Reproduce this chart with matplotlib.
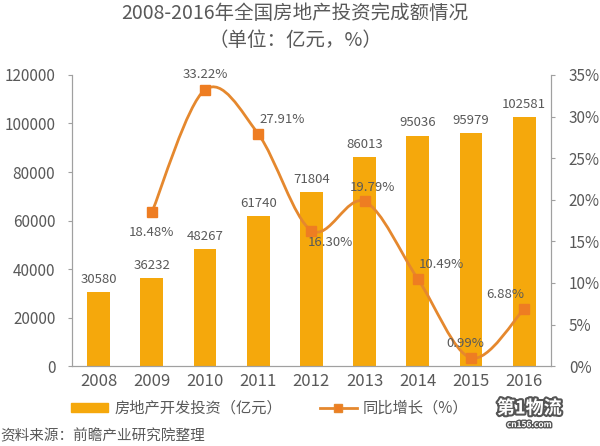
import matplotlib.pyplot as plt
import matplotlib.patheffects as pe
from matplotlib.path import Path
from matplotlib.patches import PathPatch
from matplotlib.lines import Line2D
from matplotlib.patches import Patch
import numpy as np

plt.rcParams['font.family'] = ['Noto Sans CJK SC', 'DejaVu Sans']

years = ['2008', '2009', '2010', '2011', '2012', '2013', '2014', '2015', '2016']
invest = [30580, 36232, 48267, 61740, 71804, 86013, 95036, 95979, 102581]
# growth rate (%), no value for 2008
growth_years = ['2009', '2010', '2011', '2012', '2013', '2014', '2015', '2016']
growth = [18.48, 33.22, 27.91, 16.30, 19.79, 10.49, 0.99, 6.88]

bar_color = '#F5A80C'
line_color = '#E5882E'
text_color = '#595959'
axis_color = '#A0A0A0'

fig = plt.figure(figsize=(6, 4.46), dpi=100)
ax = fig.add_axes([0.12, 0.179, 0.798, 0.653])
ax2 = ax.twinx()

x = np.arange(len(years))
ax.bar(x, invest, width=0.43, color=bar_color, zorder=2)
for xi, v in zip(x, invest):
    ax.text(xi, v + 2500, str(v), ha='center', va='bottom', fontsize=9.5, color=text_color)

ax.set_xlim(-0.5, len(years) - 0.5)
ax.set_ylim(0, 120000)
ax.set_yticks(range(0, 120001, 20000))
ax.set_xticks(x)
ax.set_xticklabels(years)
ax2.set_ylim(0, 35)
ax2.set_yticks(range(0, 36, 5))
ax2.set_yticklabels([f'{t}%' for t in range(0, 36, 5)])

for a in (ax, ax2):
    a.spines['top'].set_visible(False)
    for s in ('left', 'right', 'bottom'):
        a.spines[s].set_color(axis_color)
    a.tick_params(colors=text_color, labelsize=11, length=3, width=0.8)
    a.tick_params(axis='y', color=axis_color)
ax.tick_params(axis='x', length=0, pad=5, labelsize=12)
ax.tick_params(axis='y', pad=9)
ax2.tick_params(axis='y', pad=10)

# smooth line through the growth points (Catmull-Rom drawn as Bezier curves)
gx = np.array([years.index(y) for y in growth_years], dtype=float)
gy = np.array(growth)
verts = [(gx[0], gy[0])]
codes = [Path.MOVETO]
n = len(gx)
for i in range(n - 1):
    p0 = (gx[max(i - 1, 0)], gy[max(i - 1, 0)])
    p1 = (gx[i], gy[i])
    p2 = (gx[i + 1], gy[i + 1])
    p3 = (gx[min(i + 2, n - 1)], gy[min(i + 2, n - 1)])
    c1 = (p1[0] + (p2[0] - p0[0]) / 6, p1[1] + (p2[1] - p0[1]) / 6)
    c2 = (p2[0] - (p3[0] - p1[0]) / 6, p2[1] - (p3[1] - p1[1]) / 6)
    verts += [c1, c2, p2]
    codes += [Path.CURVE4] * 3
ax2.add_patch(PathPatch(Path(verts, codes), fill=False, edgecolor=line_color, lw=2.0, zorder=3))
ax2.plot(gx, gy, 's', color='#EE7D22', ms=7, zorder=4)

offsets = {
    '2009': (0, -1.6, 'top'),
    '2010': (0, 1.0, 'bottom'),
    '2011': (0.45, 1.0, 'bottom'),
    '2012': (0.35, -0.6, 'top'),
    '2013': (0.15, 0.9, 'bottom'),
    '2014': (0.45, 0.9, 'bottom'),
    '2015': (-0.1, 0.9, 'bottom'),
    '2016': (-0.35, 0.9, 'bottom'),
}
for yr, xi, v in zip(growth_years, gx, gy):
    dx, dy, va = offsets[yr]
    ax2.text(xi + dx, v + dy, f'{v:.2f}%', ha='center', va=va, fontsize=9.5, color=text_color, zorder=5)

fig.text(0.492, 0.97, '2008-2016年全国房地产投资完成额情况', ha='center', va='center',
         fontsize=14, color=text_color)
fig.text(0.492, 0.91, '（单位：亿元，%）', ha='center', va='center', fontsize=14, color=text_color)

handles = [Patch(color=bar_color),
           Line2D([], [], color=line_color, lw=2.0, marker='s', ms=6, markerfacecolor='#EE7D22')]
fig.legend(handles, ['房地产开发投资（亿元）', '同比增长（%）'], loc='center', bbox_to_anchor=(0.45, 0.085),
           ncol=2, frameon=False, fontsize=11, labelcolor=text_color, handlelength=2.4,
           handleheight=0.55, columnspacing=2.5, handletextpad=0.4)

fig.text(0.0, 0.022, '资料来源：前瞻产业研究院整理', ha='left', va='center', fontsize=10.5, color=text_color)
fig.text(0.882, 0.085, '第1物流', ha='center', va='center', fontsize=13, weight='bold', color='white',
         path_effects=[pe.withStroke(linewidth=3, foreground='#555555')])
fig.text(0.882, 0.048, 'cn156.com', ha='center', va='center', fontsize=6, weight='bold', color='white',
         path_effects=[pe.withStroke(linewidth=2, foreground='#555555')])

fig.savefig('out.png', dpi=100)
